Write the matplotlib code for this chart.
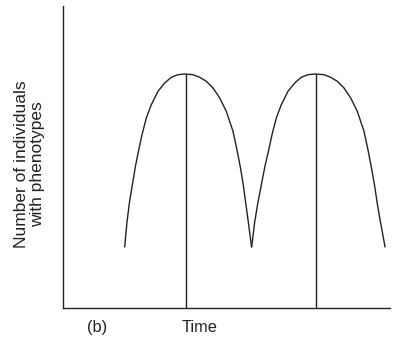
import matplotlib
matplotlib.use('Agg')
from matplotlib import pyplot as plt

plt.rcParams['font.family'] = ['Liberation Sans', 'DejaVu Sans']

# first generation arch (time, number of individuals)
arch1_x = [61.7, 64, 66.5, 69.5, 72.5, 75.5, 79, 83.3, 88.3, 95, 101.7,
           108.3, 115, 122, 130, 136.7, 143.3, 150, 156.7, 163.3, 170,
           174, 177.5, 180.3, 183, 185.7, 188.5]
arch1_y = [61.3, 86, 106, 124, 142, 157, 173.3, 190, 203.3, 216.7, 225,
           230.7, 233.3, 234, 233.3, 230.7, 226.7, 220, 210, 196.7, 176.7,
           158, 140, 123, 103, 83, 61.3]

# second generation arch
arch2_x = [188.7, 191.7, 195, 198.5, 202, 205.5, 209, 213.3, 218.3, 225,
           231.7, 238.3, 245, 252, 261, 267.7, 274.3, 281, 287.7, 294.3,
           301, 305, 308.5, 311.5, 314.5, 318, 322]
arch2_y = [61.3, 86, 106, 124, 142, 157, 173.3, 190, 203.3, 216.7,
           225, 230.7, 233.3, 234, 233.3, 230.7, 226.7, 220, 210, 196.7,
           176.7, 158, 140, 123, 103, 83, 61.3]

peak_x = [122.5, 253]
peak_y = [234, 234]

ink = '#222222'

fig = plt.figure(figsize=(3.99, 3.40), dpi=100)
ax = fig.add_axes([63 / 399, 32 / 340, 327 / 399, 302 / 340])

ax.plot(arch1_x, arch1_y, color=ink, lw=1.0, solid_joinstyle='round')
ax.plot(arch2_x, arch2_y, color=ink, lw=1.0, solid_joinstyle='round')
ax.vlines(peak_x, 0, peak_y, color=ink, lw=1.0)

ax.set_xlim(0, 327)
ax.set_ylim(0, 302)
ax.set_xticks([])
ax.set_yticks([])
for side in ['top', 'right']:
    ax.spines[side].set_visible(False)
for side in ['left', 'bottom']:
    ax.spines[side].set_color(ink)
    ax.spines[side].set_linewidth(1.0)

fig.text(29.5 / 399, 0.518, 'Number of individuals\nwith phenotypes',
         rotation=90, ha='center', va='center', fontsize=12.5,
         linespacing=1.05, color=ink)
fig.text(97 / 399, 8 / 340, '(b)', ha='center', va='baseline',
         fontsize=11.8, color=ink)
fig.text(200 / 399, 8 / 340, 'Time', ha='center', va='baseline',
         fontsize=11.8, color=ink)

fig.savefig('out.png', dpi=100)
